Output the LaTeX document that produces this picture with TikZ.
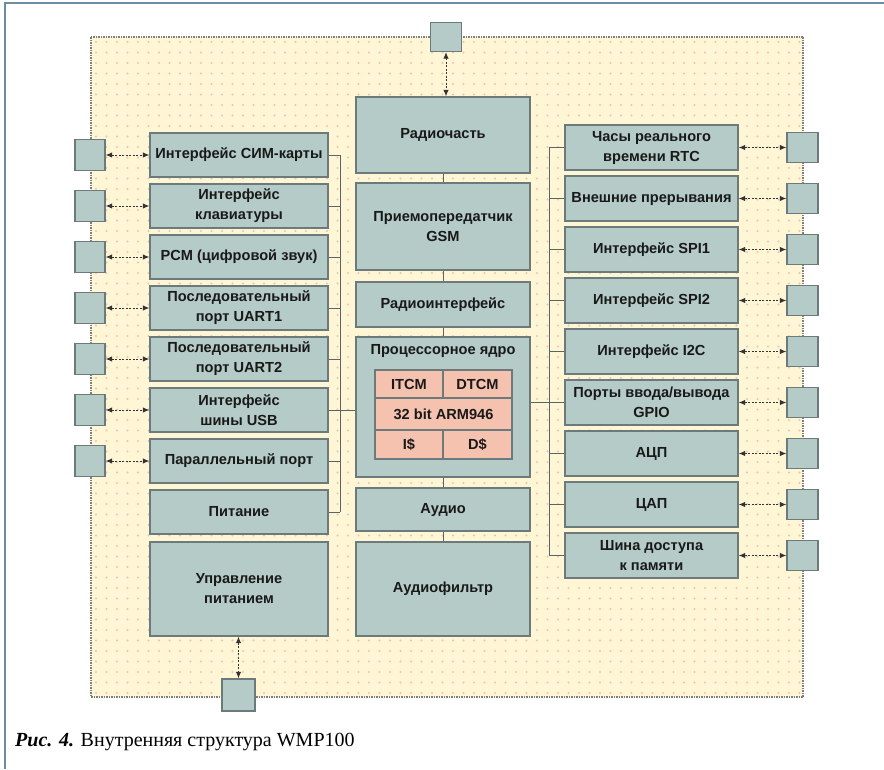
\documentclass[tikz,border=0pt]{standalone}
\usepackage{fontspec}
\setmainfont{Liberation Serif}
\setsansfont{Liberation Sans}
\usetikzlibrary{arrows.meta}
\definecolor{frameblue}{HTML}{6A8EA2}
\definecolor{panelfill}{HTML}{FFF6D6}
\definecolor{pdot}{HTML}{F2C0B6}
\definecolor{boxfill}{HTML}{B5CBC8}
\definecolor{boxline}{HTML}{6C7A7C}
\definecolor{tablefill}{HTML}{F4C2AE}
\definecolor{busline}{HTML}{5A6466}
\definecolor{panelline}{HTML}{7E7E7E}
\begin{document}
\begin{tikzpicture}[x=1pt,y=-1pt,
  blk/.style={draw=boxline, fill=boxfill, line width=1.3pt, inner sep=2pt, align=center,
    font=\sffamily\bfseries\fontsize{14.6}{20}\selectfont, text=black!90},
  lbox/.style={blk, minimum width=178pt, minimum height=44pt},
  cbox/.style={blk, minimum width=174pt},
  rbox/.style={blk, minimum width=173pt, minimum height=45pt},
  port/.style={draw=boxline, fill=boxfill, line width=1.3pt, minimum width=30pt, minimum height=31pt, inner sep=0pt},
  cell/.style={draw=boxline, fill=tablefill, line width=1.3pt, inner sep=0pt, align=center,
    font=\sffamily\bfseries\fontsize{14.6}{16}\selectfont, text=black!90},
  bus/.style={draw=busline, line width=1pt},
  link/.style={draw=black!80, line width=1pt, dash pattern=on 2pt off 1.5pt,
    {Latex[length=6.5pt,width=5.5pt]}-{Latex[length=6.5pt,width=5.5pt]}},
]
\useasboundingbox (0,0) rectangle (884,769);
% outer frame
\draw[frameblue, line width=2.5pt] (5,769) -- (5,3) -- (884,3);
% panel
\fill[panelfill] (91,37) rectangle (803,697);
\foreach \xx in {0,...,67}{\foreach \yy in {0,...,62}{\fill[pdot] ({96+\xx*10.5},{42+\yy*10.5}) circle (1.2pt);}}
\draw[panelline, line width=1.5pt, dash pattern=on 1.5pt off 1pt] (91,37) rectangle (803,697);

% left boxes
\node[lbox] (l1) at (239,155) {Интерфейс СИМ-карты};
\node[lbox] (l2) at (239,206) {Интерфейс\\клавиатуры};
\node[lbox] (l3) at (239,257) {PCM (цифровой звук)};
\node[lbox] (l4) at (239,308) {Последовательный\\порт UART1};
\node[lbox] (l5) at (239,359) {Последовательный\\порт UART2};
\node[lbox] (l6) at (239,410) {Интерфейс\\шины USB};
\node[lbox] (l7) at (239,461) {Параллельный порт};
\node[lbox] (l8) at (239,512) {Питание};
\node[lbox, minimum height=94pt] (l9) at (239,589) {Управление\\питанием};

% left ports
\foreach \i/\yy in {1/155,2/206,3/257,4/308,5/359,6/410,7/461}{
  \node[port] (sl\i) at (90,\yy) {};
  \draw[link] (sl\i.east) -- (l\i.west);
}

% central boxes
\node[cbox, minimum height=76pt] (c1) at (443,135) {Радиочасть};
\node[cbox, minimum height=87pt] (c2) at (443,226.5) {Приемопередатчик\\GSM};
\node[cbox, minimum height=45pt] (c3) at (443,304.5) {Радиоинтерфейс};
\node[cbox, minimum height=140pt] (proc) at (443,407) {};
\node[blk, draw=none, fill=none] (proct) at (443,351) {Процессорное ядро};
\node[cbox, minimum height=43pt] (c5) at (443,509.5) {Аудио};
\node[cbox, minimum height=94pt] (c6) at (443,589) {Аудиофильтр};

% table inside processor
\node[cell, minimum width=68pt, minimum height=28pt] (t1) at (409,384) {ITCM};
\node[cell, minimum width=69pt, minimum height=28pt] (t2) at (477.5,384) {DTCM};
\node[cell, minimum width=137pt, minimum height=32pt] (t3) at (443.5,414) {32 bit ARM946};
\node[cell, minimum width=68pt, minimum height=29pt] (t4) at (409,444.5) {I\$};
\node[cell, minimum width=69pt, minimum height=29pt] (t5) at (477.5,444.5) {D\$};

% central connectors
\draw[bus] (c1.south) -- (c2.north);
\draw[bus] (c2.south) -- (c3.north);
\draw[bus] (c3.south) -- (proc.north);
\draw[bus] (proc.south) -- (c5.north);
\draw[bus] (c5.south) -- (c6.north);

% top and bottom ports
\node[port, minimum width=31pt, minimum height=29pt] (st) at (446,37) {};
\draw[link] (st.south) -- (st.south |- c1.north);
\node[port, minimum width=33pt, minimum height=32pt] (sb) at (238.5,695) {};
\draw[link] (l9.south -| sb.north) -- (sb.north);

% right boxes
\node[rbox] (r1) at (651.5,147.5) {Часы реального\\времени RTC};
\node[rbox] (r2) at (651.5,198.5) {Внешние прерывания};
\node[rbox] (r3) at (651.5,249.5) {Интерфейс SPI1};
\node[rbox] (r4) at (651.5,300.5) {Интерфейс SPI2};
\node[rbox] (r5) at (651.5,351.5) {Интерфейс I2C};
\node[rbox] (r6) at (651.5,402.5) {Порты ввода/вывода\\GPIO};
\node[rbox] (r7) at (651.5,453.5) {АЦП};
\node[rbox] (r8) at (651.5,504.5) {ЦАП};
\node[rbox] (r9) at (651.5,555.5) {Шина доступа\\к памяти};

\foreach \i/\yy in {1/147.5,2/198.5,3/249.5,4/300.5,5/351.5,6/402.5,7/453.5,8/504.5,9/555.5}{
  \node[port, minimum width=31pt, minimum height=30pt] (sr\i) at (802.5,\yy) {};
  \draw[link] (r\i.east) -- (sr\i.west);
}

% buses
\coordinate (bL) at (340,0);
\coordinate (bR) at (549,0);
\foreach \i in {1,...,8}{\draw[bus] (l\i.east) -- (l\i.east -| bL);}
\draw[bus] (l1.east -| bL) -- (l8.east -| bL);
\draw[bus] (l6.east -| bL) -- (proc.west |- l6.east);
\foreach \i in {1,...,9}{\draw[bus] (r\i.west) -- (r\i.west -| bR);}
\draw[bus] (r1.west -| bR) -- (r9.west -| bR);
\draw[bus] (r6.west -| bR) -- (proc.east |- r6.west);

% caption
\node[anchor=base west, inner sep=0pt, font=\fontsize{20}{23}\selectfont] (cap) at (15,746)
  {\textbf{\textit{Рис. 4.}} Внутренняя структура WMP100};
\end{tikzpicture}
\end{document}
